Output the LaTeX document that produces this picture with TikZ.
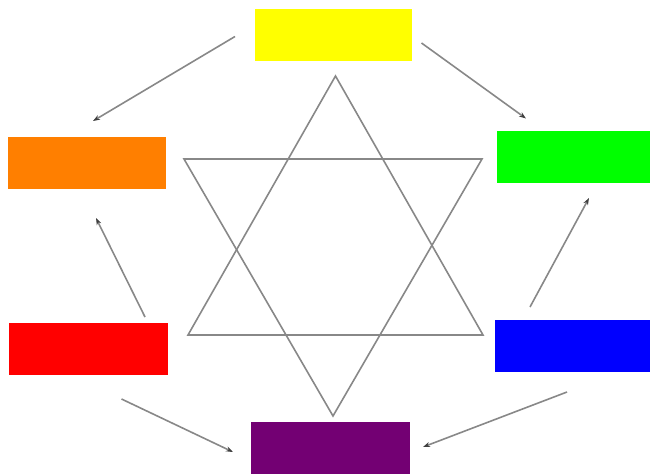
\documentclass[tikz,border=0pt]{standalone}
\usetikzlibrary{arrows.meta}
\definecolor{yel}{HTML}{FFFF00}
\definecolor{grn}{HTML}{00FF00}
\definecolor{blu}{HTML}{0000FF}
\definecolor{rd}{HTML}{FF0000}
\definecolor{orng}{HTML}{FF7F00}
\definecolor{purp}{HTML}{730073}
\definecolor{lgray}{HTML}{888888}
\begin{document}
\begin{tikzpicture}[x=1pt,y=-1pt,
  box/.style={draw=none,minimum width=157pt,minimum height=52pt,inner sep=0pt,anchor=north west},
  conn/.style={draw=lgray,line width=1.6pt,-{Stealth[length=7pt,width=5pt,color=black!75]}},
  star/.style={draw=lgray,line width=1.6pt,line join=miter}]
\useasboundingbox (0,0) rectangle (650,476);
\node[box,fill=yel] (yelbox) at (255,9) {};
\node[box,fill=grn,minimum width=153pt] (grnbox) at (497,131) {};
\node[box,fill=blu,minimum width=155pt] (blubox) at (495,320) {};
\node[box,fill=purp,minimum width=159pt] (purbox) at (251,422) {};
\node[box,fill=rd,minimum width=159pt] (rdbox) at (9,323) {};
\node[box,fill=orng,minimum width=158pt] (orgbox) at (8,137) {};
% star
\coordinate (ua) at (335.5,76);
\coordinate (ul) at (188,335);
\coordinate (ur) at (483,335);
\coordinate (dl) at (184,159);
\coordinate (dr) at (482,159);
\coordinate (da) at (333,416);
\draw[star] (ua) -- (ur) -- (ul) -- cycle;
\draw[star] (dl) -- (dr) -- (da) -- cycle;
% arrow ends
\coordinate (a1s) at (421.5,43);
\coordinate (a1e) at (526,118.5);
\coordinate (a2s) at (235,36.5);
\coordinate (a2e) at (93,121);
\coordinate (a3s) at (145,317);
\coordinate (a3e) at (96,218);
\coordinate (a4s) at (530,307);
\coordinate (a4e) at (589,198);
\coordinate (a5s) at (121.5,399);
\coordinate (a5e) at (233,452);
\coordinate (a6s) at (567,392);
\coordinate (a6e) at (423,447);
\draw[conn] (a1s) -- (a1e);
\draw[conn] (a2s) -- (a2e);
\draw[conn] (a3s) -- (a3e);
\draw[conn] (a4s) -- (a4e);
\draw[conn] (a5s) -- (a5e);
\draw[conn] (a6s) -- (a6e);
\end{tikzpicture}
\end{document}
